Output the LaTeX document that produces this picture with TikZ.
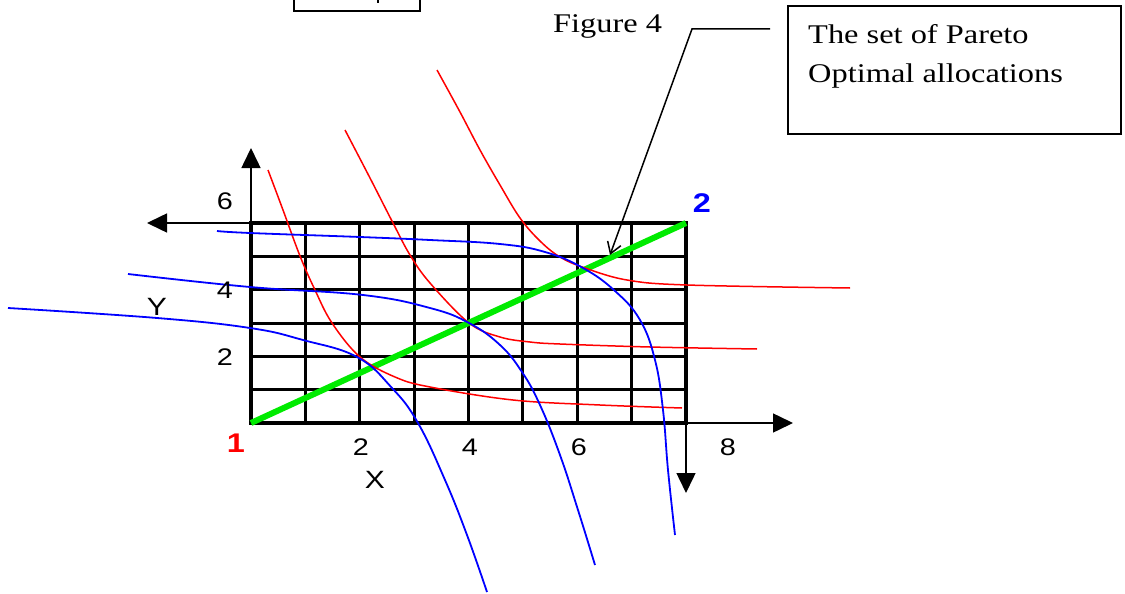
\documentclass[tikz,border=0pt]{standalone}
\usepackage{fontspec}
\usetikzlibrary{arrows.meta}
\newfontfamily\tnr{Liberation Serif}[FakeStretch=1.2]
\newfontfamily\arl{Liberation Sans}[FakeStretch=1.2]
\definecolor{pgreen}{RGB}{0,235,0}
\begin{document}
\begin{tikzpicture}[x=1pt,y=-1pt,
  ax/.style={line width=1.5pt,-{Triangle[length=20pt,width=19pt]}},
  rc/.style={red,line width=1.5pt},
  bc/.style={blue,line width=1.8pt},
  lab/.style={font=\arl\fontsize{24}{24}\selectfont,inner sep=0pt},
  axname/.style={font=\arl\fontsize{25}{25}\selectfont,inner sep=0pt},
  origin/.style={font=\arl\bfseries\fontsize{27}{27}\selectfont,inner sep=0pt},
  serif/.style={font=\tnr\fontsize{27}{32}\selectfont,inner sep=0pt,anchor=base west},
  gridin/.style={line width=3pt},
  gridout/.style={line width=3.6pt},
  pareto/.style={pgreen,line width=6pt},
  callout/.style={line width=1.5pt,-{Straight Barb[length=11pt,width=14pt]}}]
\useasboundingbox (0,0) rectangle (1125,594);
\fill[white] (0,0) rectangle (1125,594);

% partial box at top left
\draw[line width=2pt] (294,0) -- (294,11) -- (420,11) -- (420,0);
\draw[line width=2pt] (378,0) -- (378,3);

% coordinates of origins
\coordinate (O1) at (251,423);
\coordinate (O2) at (686,223);
\coordinate (TL) at (251,223);
\coordinate (BR) at (686,423);

% axes
\draw[ax] (TL) -- (251,148);
\draw[ax] (TL) -- (147,223);
\draw[ax] (BR) -- (793,423);
\draw[ax] (BR) -- (686,493);

% grid
\foreach \i in {1,...,7} {
  \draw[gridin] ({251+\i*54.375},223) -- ({251+\i*54.375},423);
}
\foreach \j in {1,...,5} {
  \draw[gridin] (251,{423-\j*33.333}) -- (686,{423-\j*33.333});
}
\draw[gridout] (O1) rectangle (O2);

% contract curve
\draw[pareto] (O1) -- (O2);

% indifference curves of person 1 (red)
\draw[rc] plot[smooth,tension=0.6] coordinates {(268,170) (283,210) (300,256) (315,290) (332,323) (360,357) (395,377) (430,387) (513,400) (600,405) (682,408)};
\draw[rc] plot[smooth,tension=0.6] coordinates {(345,130) (370,178) (393,223) (410,255) (430,283) (469,323) (500,337) (530,342) (560,344) (650,347) (757,349)};
\draw[rc] plot[smooth,tension=0.6] coordinates {(437,70) (460,112) (480,150) (500,185) (520,218) (540,241) (560,257) (585,268) (627,280) (687,285) (850,288)};

% indifference curves of person 2 (blue)
\draw[bc] plot[smooth,tension=0.7] coordinates {(217,231) (250,233) (360,237) (430,240) (500,244) (545,252) (583,268) (615,291) (640,320) (655,360) (663,410) (668,470) (675,535)};
\draw[bc] plot[smooth,tension=0.7] coordinates {(128,274) (250,287) (363,295) (430,308) (469,323) (500,345) (522,372) (540,405) (560,455) (578,510) (595,565)};
\draw[bc] plot[smooth,tension=0.7] coordinates {(8,308) (157,318) (250,328) (303,340) (357,357) (392,388) (418,423) (445,480) (467,535) (487,592)};

% axis labels
\node[lab] (y6) at (225,201) {6};
\node[lab] (y4) at (225,290) {4};
\node[lab] (y2) at (225,357) {2};
\node[axname] (ylab) at (157,307) {Y};
\node[lab] (x2) at (361,447) {2};
\node[lab] (x4) at (470,447) {4};
\node[lab] (x6) at (579,447) {6};
\node[lab] (x8) at (728,447) {8};
\node[axname] (xlab) at (375,480) {X};
\node[origin,red] (one) at (236,443) {1};
\node[origin,blue] (two) at (702,203) {2};

% title and callout
\node[serif] (fig) at (553,33) {Figure 4};
\node[draw,line width=2pt,minimum width=333pt,minimum height=128pt,anchor=north west,inner sep=0pt] (box) at (787,5) {};
\node[serif] (t1) at (808,44) {The set of Pareto};
\node[serif] (t2) at (808,82) {Optimal allocations};
\coordinate (c0) at (770,29);
\coordinate (c1) at (692,29);
\coordinate (tip) at (610,255);
\draw[callout] (c0) -- (c1) -- (tip);
\end{tikzpicture}
\end{document}
